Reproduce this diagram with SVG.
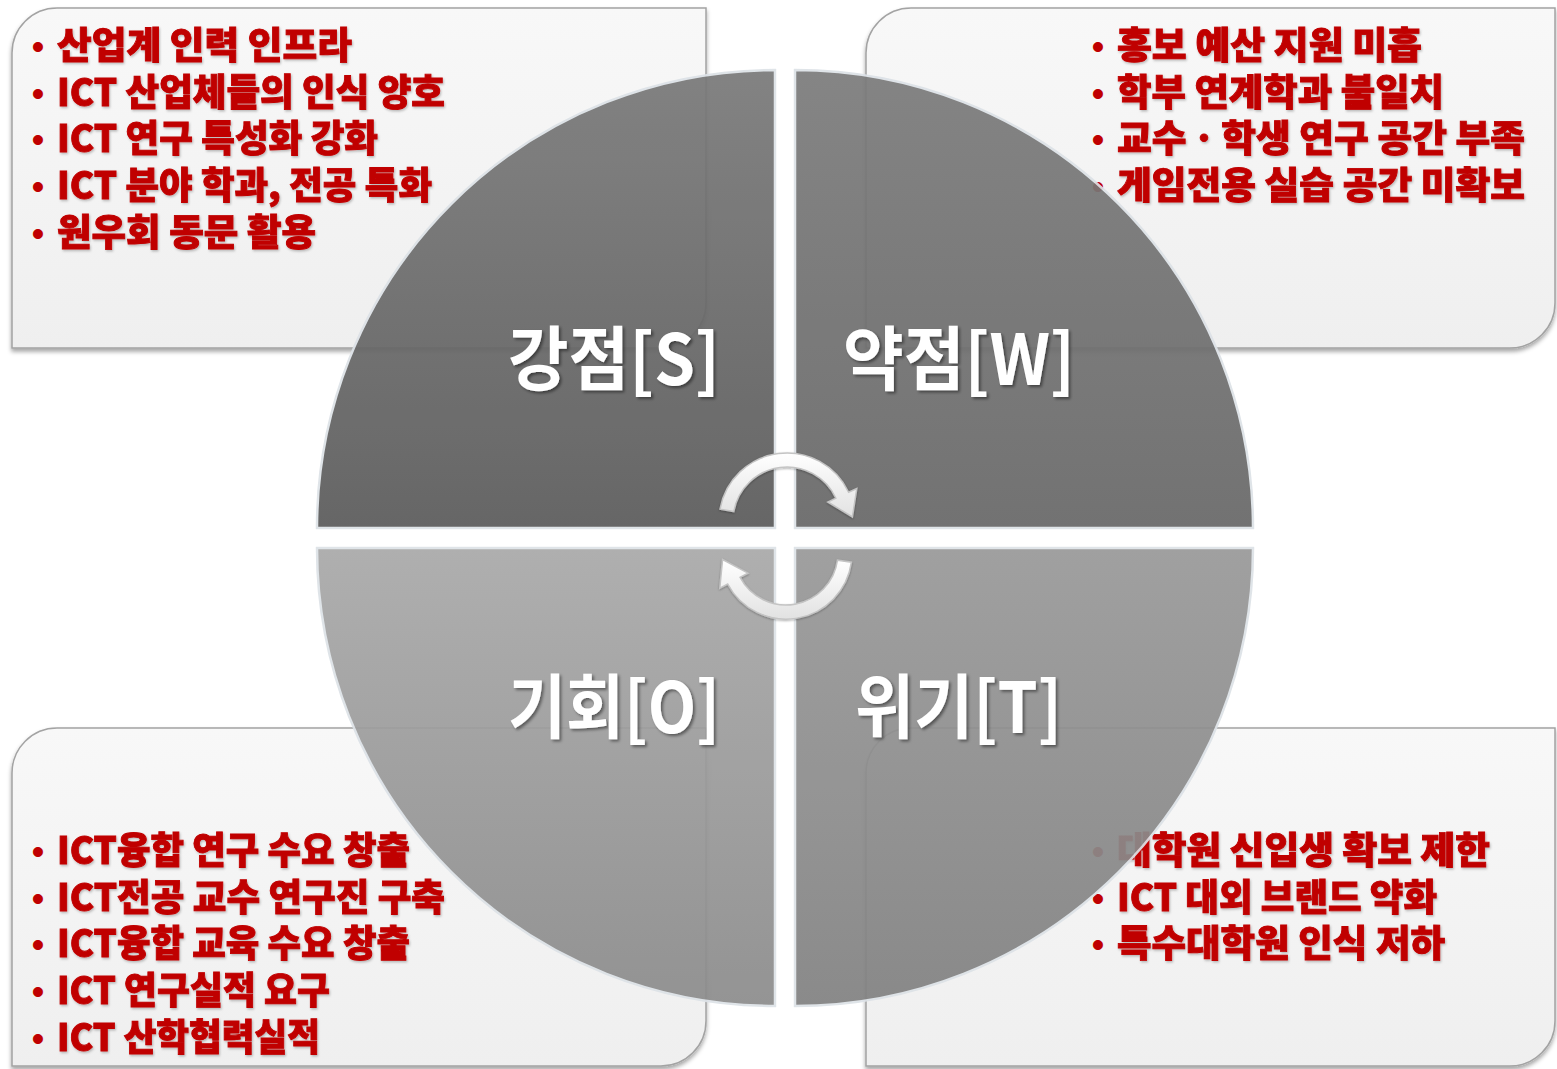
<svg xmlns="http://www.w3.org/2000/svg" width="1557" height="1069" viewBox="0 0 1557 1069">
<defs>
<linearGradient id="boxg" x1="0" y1="0" x2="0" y2="1">
<stop offset="0" stop-color="#f8f8f8"/><stop offset="1" stop-color="#efefef"/>
</linearGradient>
<linearGradient id="gTL" x1="0" y1="0" x2="0" y2="1">
<stop offset="0" stop-color="#7a7a7a"/><stop offset="1" stop-color="#5b5b5b"/>
</linearGradient>
<linearGradient id="gTR" x1="0" y1="0" x2="0" y2="1">
<stop offset="0" stop-color="#7c7c7c"/><stop offset="1" stop-color="#686868"/>
</linearGradient>
<linearGradient id="gBL" x1="0" y1="0" x2="0" y2="1">
<stop offset="0" stop-color="#a9a9a9"/><stop offset="1" stop-color="#8c8c8c"/>
</linearGradient>
<linearGradient id="gBR" x1="0" y1="0" x2="0" y2="1">
<stop offset="0" stop-color="#999999"/><stop offset="1" stop-color="#828282"/>
</linearGradient>
<linearGradient id="gArrow" x1="0" y1="0" x2="0" y2="1">
<stop offset="0" stop-color="#ffffff"/><stop offset="1" stop-color="#e2e2e2"/>
</linearGradient>
<filter id="shadow" x="-5%" y="-5%" width="110%" height="115%">
<feDropShadow dx="0" dy="3" stdDeviation="2" flood-color="#000" flood-opacity="0.35"/>
</filter>
<filter id="tshadow" x="-5%" y="-5%" width="110%" height="120%">
<feDropShadow dx="2" dy="2" stdDeviation="1.5" flood-color="#000" flood-opacity="0.45"/>
</filter>
<filter id="rshadow" x="-5%" y="-5%" width="110%" height="130%">
<feDropShadow dx="1" dy="1.5" stdDeviation="1" flood-color="#000" flood-opacity="0.25"/>
</filter>
<filter id="ashadow" x="-20%" y="-20%" width="140%" height="140%">
<feDropShadow dx="0" dy="1" stdDeviation="1" flood-color="#000" flood-opacity="0.3"/>
</filter>
</defs>
<style>
.box{fill:url(#boxg);stroke:#a3a3a3;stroke-width:1.5;filter:url(#shadow)}
.item{font-family:"Noto Sans CJK KR","Noto Sans",sans-serif;font-weight:900;font-size:37px;fill:#c00000;stroke:#c00000;stroke-width:0.9;filter:url(#rshadow)}
.bul{font-family:"Liberation Sans",sans-serif;font-size:37px;fill:#c00000;text-anchor:middle}
.quad{opacity:0.93;stroke:#dde2e7;stroke-width:2.5}
.label{font-family:"Noto Sans CJK KR","Noto Sans",sans-serif;font-weight:700;font-size:70px;fill:#ffffff;filter:url(#tshadow)}
.arrow{fill:url(#gArrow);stroke:#c4c4c4;stroke-width:1.5;filter:url(#ashadow)}
</style>
<rect width="1557" height="1069" fill="#ffffff"/>

<g id="box-strengths">
<path class="box" d="M57,8 L706,8 L706,303 A45,45 0 0 1 661,348 L12,348 L12,53 A45,45 0 0 1 57,8 Z"/>
<text class="bul" x="38" y="59">•</text><text class="item" x="57" y="59" textLength="295" lengthAdjust="spacingAndGlyphs">산업계 인력 인프라</text>
<text class="bul" x="38" y="105.5">•</text><text class="item" x="57" y="105.5" textLength="388" lengthAdjust="spacingAndGlyphs">ICT 산업체들의 인식 양호</text>
<text class="bul" x="38" y="152">•</text><text class="item" x="57" y="152" textLength="321" lengthAdjust="spacingAndGlyphs">ICT 연구 특성화 강화</text>
<text class="bul" x="38" y="199">•</text><text class="item" x="57" y="199" textLength="375" lengthAdjust="spacingAndGlyphs">ICT 분야 학과, 전공 특화</text>
<text class="bul" x="38" y="246">•</text><text class="item" x="57" y="246" textLength="259" lengthAdjust="spacingAndGlyphs">원우회 동문 활용</text>
</g>

<g id="box-weaknesses">
<path class="box" d="M911,8 L1555,8 L1555,303 A45,45 0 0 1 1510,348 L866,348 L866,53 A45,45 0 0 1 911,8 Z"/>
<text class="bul" x="1098" y="59">•</text><text class="item" x="1117" y="59" textLength="305" lengthAdjust="spacingAndGlyphs">홍보 예산 지원 미흡</text>
<text class="bul" x="1098" y="105.5">•</text><text class="item" x="1117" y="105.5" textLength="327" lengthAdjust="spacingAndGlyphs">학부 연계학과 불일치</text>
<text class="bul" x="1098" y="152">•</text><text class="item" x="1117" y="152" textLength="408" lengthAdjust="spacingAndGlyphs">교수ㆍ학생 연구 공간 부족</text>
<text class="bul" x="1098" y="199">•</text><text class="item" x="1117" y="199" textLength="408" lengthAdjust="spacingAndGlyphs">게임전용 실습 공간 미확보</text>
</g>

<g id="box-opportunities">
<path class="box" d="M57,728 L706,728 L706,1021 A45,45 0 0 1 661,1066 L12,1066 L12,773 A45,45 0 0 1 57,728 Z"/>
<text class="bul" x="38" y="864">•</text><text class="item" x="57" y="864" textLength="353" lengthAdjust="spacingAndGlyphs">ICT융합 연구 수요 창출</text>
<text class="bul" x="38" y="910.5">•</text><text class="item" x="57" y="910.5" textLength="388" lengthAdjust="spacingAndGlyphs">ICT전공 교수 연구진 구축</text>
<text class="bul" x="38" y="957">•</text><text class="item" x="57" y="957" textLength="353" lengthAdjust="spacingAndGlyphs">ICT융합 교육 수요 창출</text>
<text class="bul" x="38" y="1004">•</text><text class="item" x="57" y="1004" textLength="273" lengthAdjust="spacingAndGlyphs">ICT 연구실적 요구</text>
<text class="bul" x="38" y="1051">•</text><text class="item" x="57" y="1051" textLength="263" lengthAdjust="spacingAndGlyphs">ICT 산학협력실적</text>
</g>

<g id="box-threats">
<path class="box" d="M911,728 L1555,728 L1555,1021 A45,45 0 0 1 1510,1066 L866,1066 L866,773 A45,45 0 0 1 911,728 Z"/>
<text class="bul" x="1098" y="864">•</text><text class="item" x="1117" y="864" textLength="373" lengthAdjust="spacingAndGlyphs">대학원 신입생 확보 제한</text>
<text class="bul" x="1098" y="910.5">•</text><text class="item" x="1117" y="910.5" textLength="320" lengthAdjust="spacingAndGlyphs">ICT 대외 브랜드 약화</text>
<text class="bul" x="1098" y="957">•</text><text class="item" x="1117" y="957" textLength="328" lengthAdjust="spacingAndGlyphs">특수대학원 인식 저하</text>
</g>

<g id="quad-S">
<path class="quad" fill="url(#gTL)" d="M775,528 L317,528 A458,458 0 0 1 775,70 Z"/>
<text class="label" x="508" y="385" textLength="212" lengthAdjust="spacingAndGlyphs">강점[S]</text>
</g>
<g id="quad-W">
<path class="quad" fill="url(#gTR)" d="M795,528 L795,70 A458,458 0 0 1 1253,528 Z"/>
<text class="label" x="843" y="385" textLength="232" lengthAdjust="spacingAndGlyphs">약점[W]</text>
</g>
<g id="quad-O">
<path class="quad" fill="url(#gBL)" d="M775,548 L775,1006 A458,458 0 0 1 317,548 Z"/>
<text class="label" x="508" y="733" textLength="212" lengthAdjust="spacingAndGlyphs">기회[O]</text>
</g>
<g id="quad-T">
<path class="quad" fill="url(#gBR)" d="M795,548 L1253,548 A458,458 0 0 1 795,1006 Z"/>
<text class="label" x="855" y="733" textLength="207" lengthAdjust="spacingAndGlyphs">위기[T]</text>
</g>

<g id="connectors">
<path class="arrow" d="M720,509.2 A68,68 0 0 1 848.6,492.3 L856.8,488.5 L852.4,517 L827.8,502 L835.9,498.2 A54,54 0 0 0 733.8,511.6 Z"/>
<path class="arrow" d="M851.4,562.2 A66,66 0 0 1 727.7,584 L719.8,588.2 L722.6,559.5 L748,573.2 L740.1,577.4 A52,52 0 0 0 837.5,560.2 Z"/>
</g>
</svg>
